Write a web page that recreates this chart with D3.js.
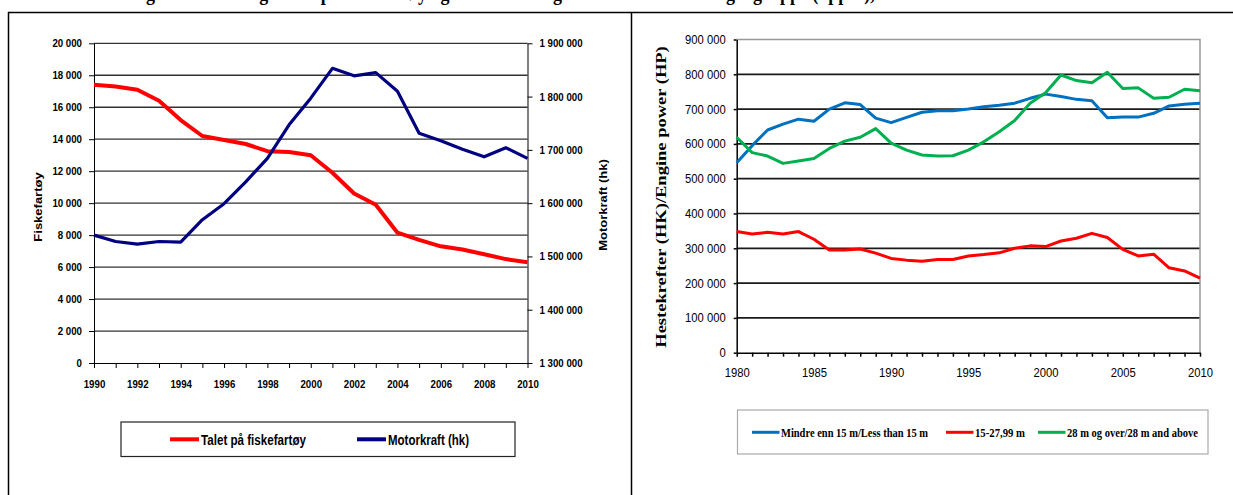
<!DOCTYPE html>
<html>
<head>
<meta charset="utf-8">
<script src="https://cdn.jsdelivr.net/npm/d3@7"></script>
<style>
  body { margin: 0; background: #fff; }
  svg { display: block; }
</style>
</head>
<body>
<script>

// left chart: vessels and engine power, 1990-2010
var yearsA = d3.range(1990, 2011);
var vessels = [17400, 17300, 17100, 16400, 15200, 14200, 13950, 13700, 13250, 13200, 13000,
               11900, 10600, 9900, 8150, 7700, 7300, 7100, 6800, 6500, 6300];
var horsepower = [1540000, 1528000, 1523000, 1528000, 1527000, 1569000, 1599000, 1640000, 1684000, 1747000, 1797000,
                  1853000, 1839000, 1845000, 1810000, 1731000, 1717000, 1701000, 1687000, 1704000, 1684000];
var leftTicks = d3.range(0, 20001, 2000);
var rightTicks = d3.range(1300000, 1900001, 100000);

// right chart: engine power by length group, 1980-2010
var yearsB = d3.range(1980, 2011);
var under15 = [546000, 595000, 640000, 657000, 671000, 665000, 700000, 718000, 713000, 674000, 661000,
               676000, 691000, 695000, 695000, 700000, 707000, 711000, 717000, 731000, 743000,
               736000, 728000, 724000, 675000, 677000, 677000, 688000, 709000, 714000, 717000];
var mid15to28 = [348000, 341000, 346000, 341000, 348000, 326000, 295000, 295000, 298000, 286000, 271000,
                 266000, 263000, 268000, 268000, 278000, 282000, 287000, 300000, 307000, 305000,
                 321000, 329000, 343000, 331000, 297000, 278000, 283000, 244000, 235000, 214000];
var over28 = [619000, 575000, 565000, 544000, 551000, 558000, 587000, 608000, 619000, 644000, 602000,
              582000, 568000, 565000, 566000, 582000, 606000, 635000, 667000, 717000, 747000,
              798000, 782000, 776000, 806000, 759000, 761000, 731000, 734000, 757000, 753000];
var powerTicks = d3.range(0, 900001, 100000);

var W = 1233, H = 495;
var svg = d3.select("body").append("svg").attr("width", W).attr("height", H);
svg.append("rect").attr("width", W).attr("height", H).attr("fill", "#fff");

var loc = d3.formatLocale({decimal: ",", thousands: " ", grouping: [3], currency: ["", ""]});
var fmt = loc.format(",d");

// squeeze text horizontally, like the scanned document
function squeeze(sel, k) {
  sel.each(function() {
    var w = this.getComputedTextLength();
    d3.select(this).attr("textLength", w * k).attr("lengthAdjust", "spacingAndGlyphs");
  });
}

// document frame
svg.append("line").attr("x1", 8).attr("x2", W).attr("y1", 12.5).attr("y2", 12.5)
  .attr("stroke", "#000").attr("stroke-width", 1.5);
svg.append("line").attr("x1", 8.5).attr("x2", 8.5).attr("y1", 12).attr("y2", H)
  .attr("stroke", "#000").attr("stroke-width", 1.5);
svg.append("line").attr("x1", 631.5).attr("x2", 631.5).attr("y1", 12).attr("y2", H)
  .attr("stroke", "#000").attr("stroke-width", 1.5);

// heading above, cut away by the page edge (only descenders show)
svg.append("text").attr("x", 130).attr("y", 0)
  .attr("font-family", "Liberation Serif, Times New Roman, serif").attr("font-weight", "bold")
  .attr("font-size", 20).attr("textLength", 830).attr("lengthAdjust", "spacingAndGlyphs")
  .text("Figur 2: Utvikling i talet på fiskefartøy og motorkraft og hestekrefter etter lengdegruppe (upper), 1980–2010");

// ---------- left chart ----------
var xA = d3.scaleLinear().domain([1990, 2010]).range([94, 527.5]);
var yA = d3.scaleLinear().domain([0, 20000]).range([363, 43.3]);
var yA2 = d3.scaleLinear().domain([1300000, 1900000]).range([363, 43.3]);

var left = svg.append("g");

left.selectAll(".grid").data(leftTicks.slice(1)).enter().append("line")
  .attr("x1", xA(1990)).attr("x2", xA(2010))
  .attr("y1", function(d) { return yA(d); }).attr("y2", function(d) { return yA(d); })
  .attr("stroke", "#333").attr("stroke-width", 1.3);

var axA = left.append("g").attr("transform", "translate(" + xA(1990) + ",0)")
  .call(d3.axisLeft(yA).tickValues(leftTicks).tickSize(5).tickSizeOuter(0).tickPadding(7).tickFormat(fmt));
var axA2 = left.append("g").attr("transform", "translate(" + xA(2010) + ",0)")
  .call(d3.axisRight(yA2).tickValues(rightTicks).tickSize(5).tickSizeOuter(0).tickPadding(7).tickFormat(fmt));
var axAx = left.append("g").attr("transform", "translate(0," + yA(0) + ")")
  .call(d3.axisBottom(xA).tickValues(yearsA).tickSize(5).tickSizeOuter(0).tickPadding(12)
    .tickFormat(function(d) { return d % 2 === 0 ? d : ""; }));

[axA, axA2, axAx].forEach(function(ax) {
  ax.selectAll("text").attr("font-family", "Liberation Sans, Arial, sans-serif")
    .attr("font-weight", "bold").attr("font-size", 11).attr("fill", "#000");
  ax.selectAll("line, path").attr("stroke", "#000");
  squeeze(ax.selectAll("text"), 0.88);
});

var lineA = d3.line().x(function(d, i) { return xA(yearsA[i]); });
left.append("path").datum(vessels)
  .attr("d", lineA.y(function(d) { return yA(d); }))
  .attr("fill", "none").attr("stroke", "#ff0000").attr("stroke-width", 4).attr("stroke-linejoin", "round");
left.append("path").datum(horsepower)
  .attr("d", d3.line().x(function(d, i) { return xA(yearsA[i]); }).y(function(d) { return yA2(d); }))
  .attr("fill", "none").attr("stroke", "#000080").attr("stroke-width", 3.2).attr("stroke-linejoin", "round");

left.append("text").attr("transform", "translate(42,207) rotate(-90) scale(1,0.8)")
  .attr("text-anchor", "middle").attr("font-family", "Liberation Sans, Arial, sans-serif")
  .attr("font-weight", "bold").attr("font-size", 13).text("Fiskefartøy");
left.append("text").attr("transform", "translate(607,205) rotate(-90) scale(1,0.8)")
  .attr("text-anchor", "middle").attr("font-family", "Liberation Sans, Arial, sans-serif")
  .attr("font-weight", "bold").attr("font-size", 13).text("Motorkraft (hk)");

// left legend
var legA = left.append("g");
legA.append("rect").attr("x", 121).attr("y", 422).attr("width", 394).attr("height", 34.5)
  .attr("fill", "#fff").attr("stroke", "#222").attr("stroke-width", 1.2);
var legItemsA = [
  {name: "Talet på fiskefartøy", color: "#ff0000", x: 170, w: 105},
  {name: "Motorkraft (hk)", color: "#000080", x: 357, w: 81}
];
legItemsA.forEach(function(it) {
  legA.append("line").attr("x1", it.x).attr("x2", it.x + 29).attr("y1", 439.3).attr("y2", 439.3)
    .attr("stroke", it.color).attr("stroke-width", 4);
  legA.append("text").attr("x", it.x + 31).attr("y", 444.5)
    .attr("font-family", "Liberation Sans, Arial, sans-serif").attr("font-weight", "bold")
    .attr("font-size", 14.5).attr("textLength", it.w).attr("lengthAdjust", "spacingAndGlyphs")
    .text(it.name);
});

// ---------- right chart ----------
var xB = d3.scaleLinear().domain([1980, 2010]).range([736.7, 1200]);
var yB = d3.scaleLinear().domain([0, 900000]).range([352.7, 39.5]);

var right = svg.append("g");

right.selectAll(".grid").data(powerTicks.slice(1, -1)).enter().append("line")
  .attr("x1", xB(1980)).attr("x2", xB(2010))
  .attr("y1", function(d) { return yB(d); }).attr("y2", function(d) { return yB(d); })
  .attr("stroke", "#1a1a1a").attr("stroke-width", 1.7);

// plot area border (top, right)
right.append("path")
  .attr("d", "M" + xB(1980) + "," + yB(900000) + "H" + xB(2010) + "V" + yB(0))
  .attr("fill", "none").attr("stroke", "#999").attr("stroke-width", 1.5);

var axB = right.append("g").attr("transform", "translate(" + xB(1980) + ",0)")
  .call(d3.axisLeft(yB).tickValues(powerTicks).tickSize(3).tickSizeOuter(0).tickPadding(8).tickFormat(fmt));
var axBx = right.append("g").attr("transform", "translate(0," + yB(0) + ")")
  .call(d3.axisBottom(xB).tickValues(yearsB).tickSize(4).tickSizeOuter(0).tickPadding(11)
    .tickFormat(function(d) { return d % 5 === 0 ? d : ""; }));

[axB, axBx].forEach(function(ax) {
  ax.selectAll("text").attr("font-family", "Liberation Sans, Arial, sans-serif")
    .attr("font-size", 12.5).attr("fill", "#000");
  ax.selectAll("line, path").attr("stroke", "#000").attr("stroke-width", 1.5);
  squeeze(ax.selectAll("text"), 0.9);
});

var seriesB = [
  {values: under15, color: "#0070c0"},
  {values: mid15to28, color: "#ff0000"},
  {values: over28, color: "#00b050"}
];
var lineB = d3.line().x(function(d, i) { return xB(yearsB[i]); }).y(function(d) { return yB(d); });
seriesB.forEach(function(s) {
  right.append("path").datum(s.values).attr("d", lineB)
    .attr("fill", "none").attr("stroke", s.color).attr("stroke-width", 3).attr("stroke-linejoin", "round");
});

right.append("text").attr("transform", "translate(666,197) rotate(-90) scale(1,0.75)")
  .attr("text-anchor", "middle").attr("font-family", "Liberation Serif, Times New Roman, serif")
  .attr("font-weight", "bold").attr("font-size", 18.5).text("Hestekrefter (HK)/Engine power (HP)");

// right legend
var legB = right.append("g");
legB.append("rect").attr("x", 737.5).attr("y", 410).attr("width", 470.5).attr("height", 44)
  .attr("fill", "#fff").attr("stroke", "#aaa").attr("stroke-width", 1.2);
var legItemsB = [
  {name: "Mindre enn 15 m/Less than 15 m", color: "#0070c0", x: 752, w: 147},
  {name: "15-27,99 m", color: "#ff0000", x: 946, w: 50},
  {name: "28 m og over/28 m and above", color: "#00b050", x: 1038, w: 131}
];
legItemsB.forEach(function(it) {
  legB.append("line").attr("x1", it.x).attr("x2", it.x + 27.5).attr("y1", 432.3).attr("y2", 432.3)
    .attr("stroke", it.color).attr("stroke-width", 3);
  legB.append("text").attr("x", it.x + 29).attr("y", 436.5)
    .attr("font-family", "Liberation Serif, Times New Roman, serif").attr("font-weight", "bold")
    .attr("font-size", 12.5).attr("textLength", it.w).attr("lengthAdjust", "spacingAndGlyphs")
    .text(it.name);
});

</script>
</body>
</html>
